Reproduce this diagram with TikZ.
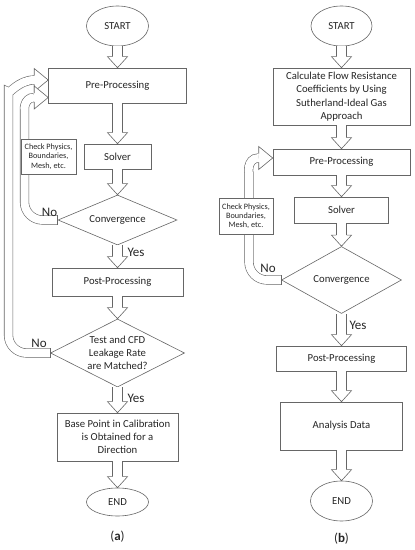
\documentclass[tikz,border=0pt]{standalone}
\usepackage{fontspec}
\setmainfont{Carlito}
\usetikzlibrary{shapes.geometric}
\definecolor{linegray}{gray}{0.4}
\definecolor{textgray}{gray}{0.15}

\tikzset{
  box/.style={rectangle, draw=linegray, line width=0.6pt, fill=white, text=textgray, align=center, inner sep=0pt, font=\fontsize{10.7}{13.3}\selectfont},
  oval/.style={ellipse, draw=linegray, line width=0.6pt, fill=white, text=textgray, inner sep=0pt, font=\fontsize{10.7}{13.3}\selectfont},
  decision/.style={diamond, draw=linegray, line width=0.6pt, fill=white, text=textgray, align=center, inner sep=0pt, font=\fontsize{10.7}{13.3}\selectfont},
  note/.style={rectangle, draw=linegray, line width=0.6pt, fill=white, text=textgray, align=center, inner sep=0pt, font=\fontsize{8.2}{9.2}\selectfont},
  lbl/.style={inner sep=0pt, text=textgray, font=\fontsize{13}{15}\selectfont},
  flow/.style={draw=linegray, line width=0.6pt, double=white, double distance=9.6pt},
  loopband/.style={draw=linegray, line width=0.6pt, double=white, double distance=8pt, rounded corners=18pt},
  hhead/.pic={\filldraw[fill=white, draw=linegray, line width=0.6pt] (-11,5.1) -- (-11,10) -- (0,0) -- (-11,-10) -- (-11,-5.1);},
  lhead/.pic={\filldraw[fill=white, draw=linegray, line width=0.6pt] (-14,4.3) -- (-14,11.5) -- (0,0) -- (-14,-11.5) -- (-14,-4.3);}
}

\begin{document}
\begin{tikzpicture}[x=1pt, y=1pt]
  \useasboundingbox (0,0) rectangle (415,550);

  % (a)
  \node[oval, minimum width=62pt, minimum height=40pt] (starta) at (117.5,524) {START};
  \node[box, minimum width=138pt, minimum height=35pt] (prea) at (117.5,464.5) {Pre-Processing};
  \node[box, minimum width=67pt, minimum height=25pt] (solvera) at (117.5,393.5) {Solver};
  \node[decision, aspect=2.38, minimum width=119pt, minimum height=50pt] (conva) at (117.5,330) {Convergence};
  \node[box, minimum width=131pt, minimum height=28pt] (posta) at (117.5,268) {Post-Processing};
  \node[decision, aspect=2, minimum width=134pt, minimum height=68pt] (testa) at (117.5,197) {Test and CFD\\Leakage Rate\\are Matched?};
  \node[box, minimum width=121pt, minimum height=48pt] (basea) at (117.5,113) {Base Point in Calibration\\is Obtained for a\\Direction};
  \node[oval, minimum width=62pt, minimum height=28pt] (enda) at (117.5,48) {END};
  \node[lbl] (capa) at (117.5,13) {(\textbf{a})};

  \draw[flow] (starta.south) -- ([yshift=11pt]prea.north);
  \pic[rotate=-90] at (prea.north) {hhead};
  \draw[flow] (prea.south) -- ([yshift=11pt]solvera.north);
  \pic[rotate=-90] at (solvera.north) {hhead};
  \draw[flow] (solvera.south) -- ([yshift=11pt]conva.north);
  \pic[rotate=-90] at (conva.north) {hhead};
  \draw[flow] (conva.south) -- ([yshift=11pt]posta.north);
  \pic[rotate=-90] at (posta.north) {hhead};
  \draw[flow] (posta.south) -- ([yshift=11pt]testa.north);
  \pic[rotate=-90] at (testa.north) {hhead};
  \draw[flow] (testa.south) -- ([yshift=11pt]basea.north);
  \pic[rotate=-90] at (basea.north) {hhead};
  \draw[flow] (basea.south) -- ([yshift=11pt]enda.north);
  \pic[rotate=-90] at (enda.north) {hhead};

  % loops back to pre-processing
  \coordinate (tipouter) at ([yshift=5.5pt]prea.west);
  \coordinate (tipinner) at ([yshift=-12pt]prea.west);
  \draw[loopband] (testa.west) -| (8.5,440) to[out=90, in=180] ([xshift=-14pt]tipouter);
  \draw[linegray, line width=0.6pt] ([yshift=4.6pt]testa.west) -- ([yshift=-4.6pt]testa.west);
  \pic at (tipouter) {lhead};
  \draw[loopband] (conva.west) -| (24.5,425) to[out=90, in=180] ([xshift=-14pt]tipinner);
  \draw[linegray, line width=0.6pt] ([yshift=4.6pt]conva.west) -- ([yshift=-4.6pt]conva.west);
  \pic at (tipinner) {lhead};
  \node[note, minimum width=55pt, minimum height=35pt] (checka) at (48.5,393.5) {Check Physics,\\Boundaries,\\Mesh, etc.};

  \node[lbl] (noa) at (49.5,338) {No};
  \node[lbl] (nob) at (39,207) {No};
  \node[lbl] (yesa) at (136,298) {Yes};
  \node[lbl] (yesb) at (136,152) {Yes};

  % (b)
  \node[oval, minimum width=61pt, minimum height=40pt] (startb) at (341.5,524) {START};
  \node[box, minimum width=137pt, minimum height=57pt] (calcb) at (341.5,453.5) {Calculate Flow Resistance\\Coefficients by Using\\Sutherland-Ideal Gas\\Approach};
  \node[box, minimum width=137pt, minimum height=26pt] (preb) at (341.5,388) {Pre-Processing};
  \node[box, minimum width=94pt, minimum height=26pt] (solverb) at (341.5,340) {Solver};
  \node[decision, aspect=1.8, minimum width=120pt, minimum height=67pt] (convb) at (341.5,270) {Convergence};
  \node[box, minimum width=130pt, minimum height=25pt] (postb) at (341.5,191.5) {Post-Processing};
  \node[box, minimum width=122pt, minimum height=48pt] (anab) at (341.5,124) {Analysis Data};
  \node[oval, minimum width=62pt, minimum height=40pt] (endb) at (341.5,49) {END};
  \node[lbl] (capb) at (341.5,11) {(\textbf{b})};

  \draw[flow] (startb.south) -- ([yshift=11pt]calcb.north);
  \pic[rotate=-90] at (calcb.north) {hhead};
  \draw[flow] (calcb.south) -- ([yshift=11pt]preb.north);
  \pic[rotate=-90] at (preb.north) {hhead};
  \draw[flow] (preb.south) -- ([yshift=11pt]solverb.north);
  \pic[rotate=-90] at (solverb.north) {hhead};
  \draw[flow] (solverb.south) -- ([yshift=11pt]convb.north);
  \pic[rotate=-90] at (convb.north) {hhead};
  \draw[flow] (convb.south) -- ([yshift=11pt]postb.north);
  \pic[rotate=-90] at (postb.north) {hhead};
  \draw[flow] (postb.south) -- ([yshift=11pt]anab.north);
  \pic[rotate=-90] at (anab.north) {hhead};
  \draw[flow] (anab.south) -- ([yshift=11pt]endb.north);
  \pic[rotate=-90] at (endb.north) {hhead};

  % loop back to pre-processing
  \coordinate (tipb) at ([yshift=4pt]preb.west);
  \draw[loopband] (convb.west) -| (249,360) to[out=90, in=180] ([xshift=-14pt]tipb);
  \draw[linegray, line width=0.6pt] ([yshift=4.6pt]convb.west) -- ([yshift=-4.6pt]convb.west);
  \pic at (tipb) {lhead};
  \node[note, minimum width=54pt, minimum height=36pt] (checkb) at (246,334) {Check Physics,\\Boundaries,\\Mesh, etc.};

  \node[lbl] (noc) at (268,282) {No};
  \node[lbl] (yesc) at (358,225) {Yes};
\end{tikzpicture}
\end{document}
